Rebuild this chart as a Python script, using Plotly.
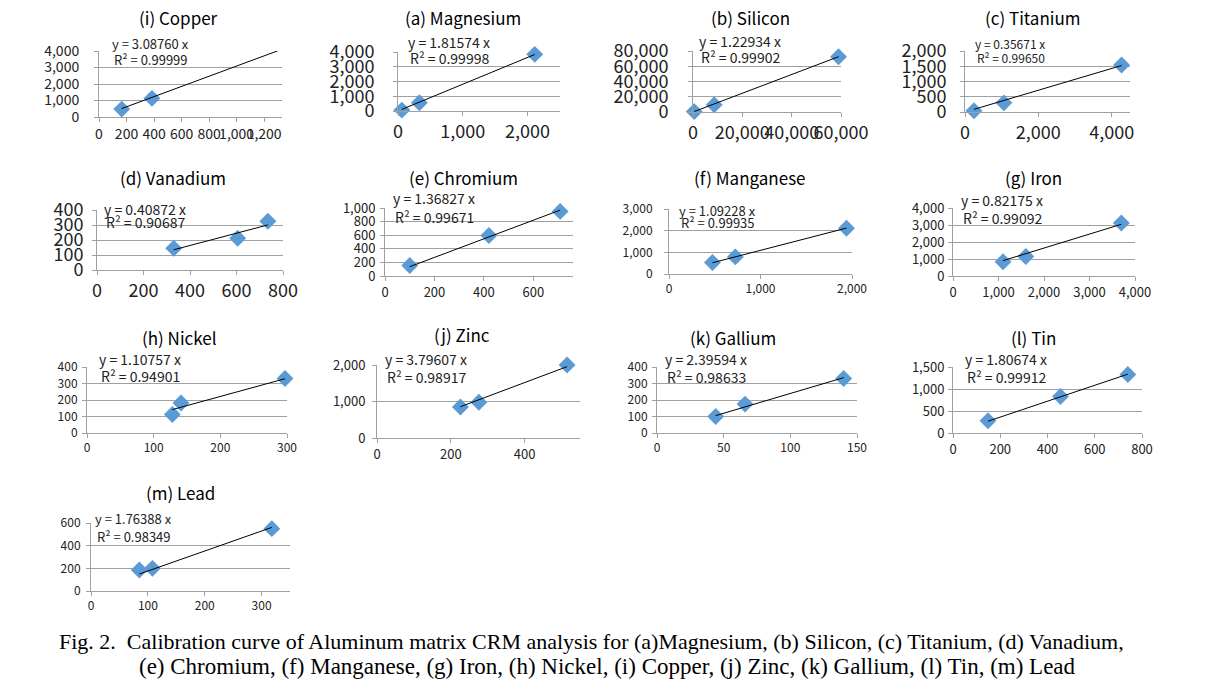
import plotly.graph_objects as go

W, H = 1208, 684

# ---- data ----
titles = ["(i) Copper", "(a) Magnesium", "(b) Silicon", "(c) Titanium",
          "(d) Vanadium", "(e) Chromium", "(f) Manganese", "(g) Iron",
          "(h) Nickel", "(j) Zinc", "(k) Gallium", "(l) Tin", "(m) Lead"]
slopes = [3.08760, 1.81574, 1.22934, 0.35671,
          0.40872, 1.36827, 1.09228, 0.82175,
          1.10757, 3.79607, 2.39594, 1.80674, 1.76388]
r2 = ["0.99999", "0.99998", "0.99902", "0.99650",
      "0.90687", "0.99671", "0.99935", "0.99092",
      "0.94901", "0.98917", "0.98633", "0.99912", "0.98349"]

copper_x = [165, 385, 1300]
copper_y = [480, 1130, 4030]
magnesium_x = [60, 330, 2110]
magnesium_y = [60, 560, 3840]
silicon_x = [500, 8600, 59000]
silicon_y = [500, 9500, 72500]
titanium_x = [245, 1060, 4270]
titanium_y = [40, 300, 1540]
vanadium_x = [330, 605, 735]
vanadium_y = [145, 212, 325]
chromium_x = [100, 420, 708]
chromium_y = [155, 595, 950]
manganese_x = [475, 725, 1940]
manganese_y = [530, 790, 2110]
iron_x = [1100, 1600, 3700]
iron_y = [840, 1150, 3120]
nickel_x = [128, 141, 297]
nickel_y = [112, 182, 330]
zinc_x = [226, 276, 515]
zinc_y = [850, 980, 2000]
gallium_x = [44, 66, 140]
gallium_y = [100, 175, 330]
tin_x = [148, 455, 740]
tin_y = [280, 830, 1330]
lead_x = [85, 108, 318]
lead_y = [185, 200, 550]

xs = [copper_x, magnesium_x, silicon_x, titanium_x, vanadium_x, chromium_x,
      manganese_x, iron_x, nickel_x, zinc_x, gallium_x, tin_x, lead_x]
ys = [copper_y, magnesium_y, silicon_y, titanium_y, vanadium_y, chromium_y,
      manganese_y, iron_y, nickel_y, zinc_y, gallium_y, tin_y, lead_y]

# axis ranges / tick steps
x_ranges = [(0, 1330), (0, 2500), (0, 60000), (0, 4500), (0, 800), (0, 760),
            (0, 2000), (0, 4000), (0, 300), (0, 550), (0, 150), (0, 800), (0, 350)]
x_dticks = [200, 1000, 20000, 2000, 200, 200, 1000, 1000, 100, 200, 50, 200, 100]
y_ranges = [(0, 4000), (0, 4000), (0, 80000), (0, 2000), (0, 400), (0, 1000),
            (0, 3000), (0, 4000), (0, 400), (0, 2000), (0, 400), (0, 1500), (0, 600)]
y_dticks = [1000, 1000, 20000, 500, 100, 200, 1000, 1000, 100, 1000, 100, 500, 200]

# ---- layout in pixels: plot box (left, right, top, bottom), title centre, equation pos, tick size ----
boxes = [(99, 282, 51, 117), (398, 560, 52, 111), (693, 841, 51, 112), (965, 1130, 51, 112),
         (97, 283, 210, 270), (385, 573, 208, 276), (669, 852, 209, 274), (953, 1135, 208, 276),
         (87, 287, 367, 433), (377, 580, 365, 438), (657, 857, 367, 433), (953, 1142, 367, 433),
         (91, 290, 523, 591)]
title_pos = [(178, 18), (463, 18), (750, 18), (1033, 18),
             (173, 177), (463, 177), (750, 177), (1033, 177),
             (179, 337), (462, 335), (733, 337), (1033, 337),
             (181, 492)]
eq_pos = [(110, 43, 59), (406, 42, 58), (697, 41, 57), (973, 43, 58),
          (102, 209, 222), (391, 198, 217), (677, 210, 223), (959, 200, 218),
          (97, 359, 376), (383, 359, 377), (663, 359, 377), (963, 359, 377),
          (93, 518, 536)]
tick_sizes = [14, 18, 18, 18, 18, 13, 12, 13, 12, 13, 12, 13, 12]
eq_sizes = [13, 14, 14, 12, 14, 14, 13, 14, 14, 14, 14, 14, 13]
# gap between y tick labels and the axis line
y_standoff = [12, 15, 16, 10, 5, 2, 9, 1, 2, 4, 2, 1, 3]

FONT = "Noto Sans CJK KR"
GRID = "#a0a0a0"
MARK = "#5B9BD5"

fig = go.Figure()
annotations = []

for i in range(len(titles)):
    n = "" if i == 0 else str(i + 1)
    l, r, t, b = boxes[i]
    fig.add_trace(go.Scatter(
        x=xs[i], y=ys[i], mode="markers",
        marker=dict(symbol="diamond", size=13, color=MARK),
        xaxis="x" + n, yaxis="y" + n, showlegend=False, cliponaxis=False))
    # linear trendline through the origin, spanning the data
    x_lo, x_hi = min(xs[i]), max(xs[i])
    fig.add_trace(go.Scatter(
        x=[x_lo, x_hi], y=[slopes[i] * x_lo, slopes[i] * x_hi], mode="lines",
        line=dict(color="black", width=1),
        xaxis="x" + n, yaxis="y" + n, showlegend=False))

    fig.layout["xaxis" + n] = dict(
        domain=[l / W, r / W], anchor="y" + n, range=list(x_ranges[i]),
        dtick=x_dticks[i], tick0=0, tickformat=",", showgrid=False,
        showline=True, linecolor=GRID, linewidth=1, ticks="outside",
        ticklen=4, tickcolor=GRID, zeroline=False, tickangle=0,
        automargin=False,
        tickfont=dict(family=FONT, size=tick_sizes[i], color="#222"))
    fig.layout["yaxis" + n] = dict(
        domain=[1 - b / H, 1 - t / H], anchor="x" + n, range=list(y_ranges[i]),
        dtick=y_dticks[i], tick0=0, tickformat=",", showgrid=True,
        gridcolor=GRID, gridwidth=1, showline=True, linecolor=GRID,
        linewidth=1, ticks="outside", ticklen=4, tickcolor=GRID,
        zeroline=False, ticklabelstandoff=y_standoff[i], automargin=False,
        tickfont=dict(family=FONT, size=tick_sizes[i], color="#222"))

    tx, ty = title_pos[i]
    annotations.append(dict(
        text=titles[i], x=tx / W, y=1 - ty / H, xref="paper", yref="paper",
        showarrow=False, xanchor="center", yanchor="middle",
        font=dict(family=FONT, size=17, color="black")))
    ex, ey1, ey2 = eq_pos[i]
    annotations.append(dict(
        text=f"y = {slopes[i]:.5f} x", x=ex / W, y=1 - ey1 / H,
        xref="paper", yref="paper", showarrow=False, xanchor="left",
        yanchor="middle", font=dict(family=FONT, size=eq_sizes[i], color="#222")))
    annotations.append(dict(
        text=f"R² = {r2[i]}", x=(ex + 2) / W, y=1 - ey2 / H,
        xref="paper", yref="paper", showarrow=False, xanchor="left",
        yanchor="middle", font=dict(family=FONT, size=eq_sizes[i], color="#222")))

caption_1 = ("Fig. 2.  Calibration curve of Aluminum matrix CRM analysis for "
             "(a)Magnesium, (b) Silicon, (c) Titanium, (d) Vanadium,")
caption_2 = ("(e) Chromium, (f) Manganese, (g) Iron, (h) Nickel, (i) Copper, "
             "(j) Zinc, (k) Gallium, (l) Tin, (m) Lead")
annotations.append(dict(
    text=caption_1, x=57 / W, y=1 - 641 / H, xref="paper", yref="paper",
    showarrow=False, xanchor="left", yanchor="middle",
    font=dict(family="Liberation Serif", size=22, color="black")))
annotations.append(dict(
    text=caption_2, x=137 / W, y=1 - 666 / H, xref="paper", yref="paper",
    showarrow=False, xanchor="left", yanchor="middle",
    font=dict(family="Liberation Serif", size=23, color="black")))

fig.update_layout(
    width=W, height=H, margin=dict(l=0, r=0, t=0, b=0, autoexpand=False),
    paper_bgcolor="white", plot_bgcolor="white",
    annotations=annotations, showlegend=False,
    font=dict(family=FONT))

# drop the page's default body margin so the figure sits at the window corner
fig.write_html("out.html", config={"displayModeBar": False},
               post_script="document.body.style.margin='0';")
